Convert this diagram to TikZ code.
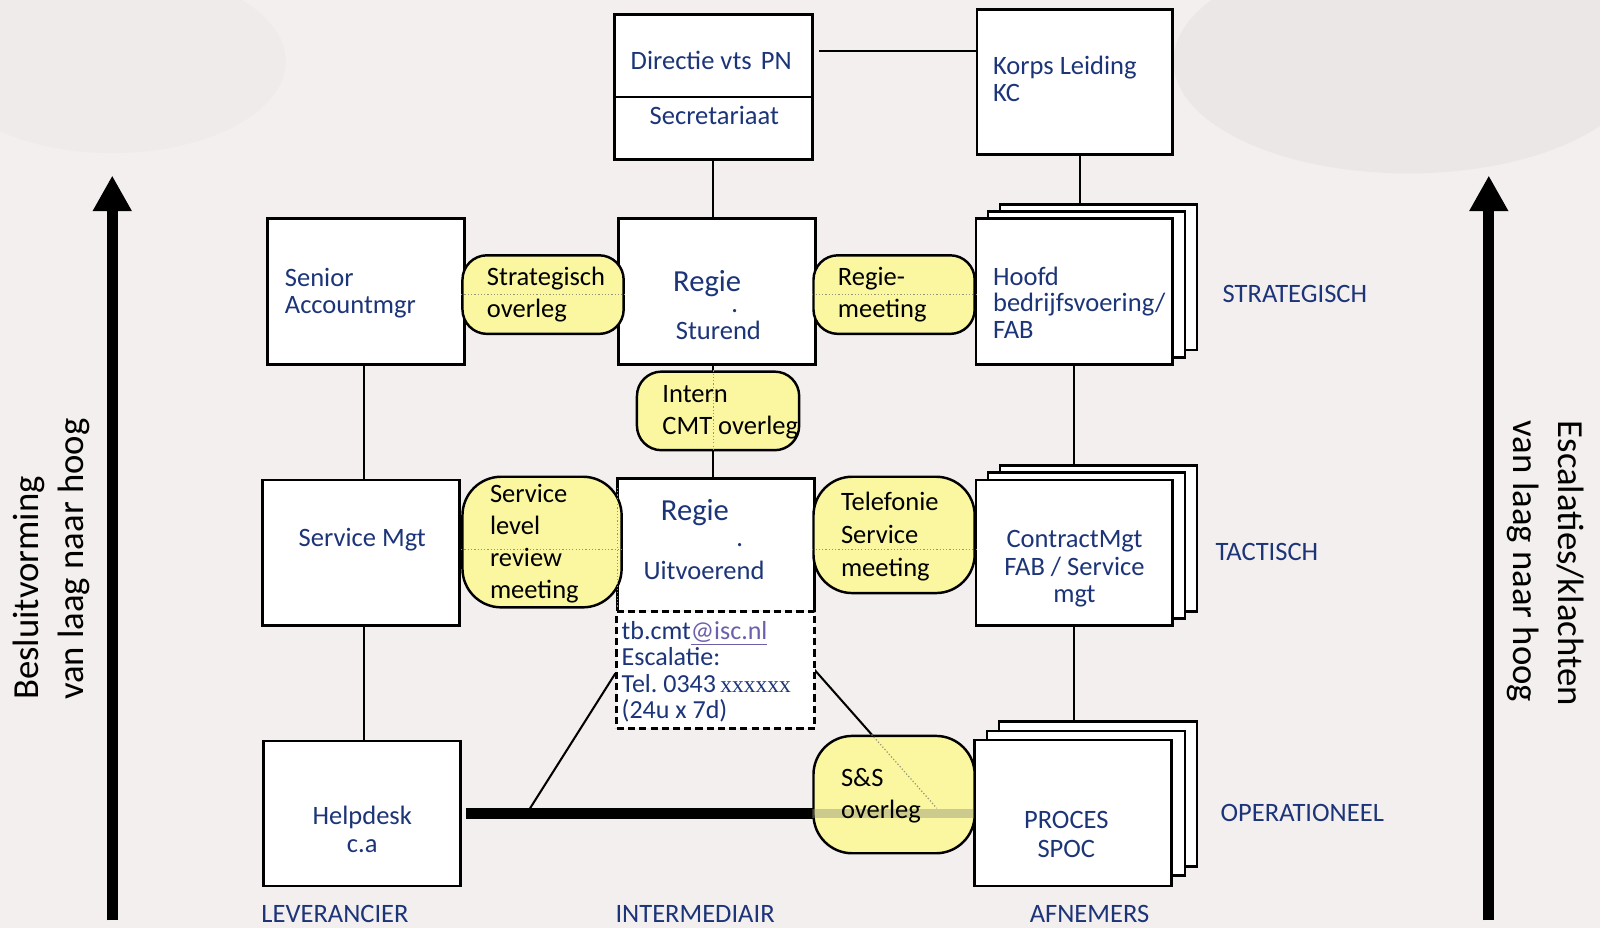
\documentclass[tikz,border=0pt]{standalone}
\usepackage{fontspec}
\setmainfont{Carlito}
\newfontfamily\serifx{Liberation Serif}
\usetikzlibrary{arrows.meta}
\definecolor{txtblue}{RGB}{28,52,120}
\definecolor{pillyellow}{RGB}{250,247,160}
\definecolor{bgc}{RGB}{244,239,239}
\definecolor{bgd}{RGB}{226,220,220}
\definecolor{linkc}{RGB}{110,95,170}
\definecolor{seec}{RGB}{150,150,120}
\frenchspacing
\begin{document}
\begin{tikzpicture}[x=1pt,y=-1pt,
 box/.style={draw=black,line width=2.4pt,fill=white,inner sep=0pt,anchor=north west},
 pill/.style={draw=black,line width=2.4pt,fill=pillyellow,inner sep=0pt,anchor=north west,rounded corners=#1},
 pill/.default=24pt,
 conn/.style={draw=black,line width=2pt},
 see/.style={draw=seec,line width=1.2pt,dotted},
 bt/.style={text=txtblue,inner sep=0pt,font=\fontsize{26}{26.5}\selectfont},
 ptx/.style={text=black,inner sep=0pt,align=left,anchor=base west,font=\fontsize{26}{31.5}\selectfont},
 lab/.style={text=txtblue,inner sep=0pt,anchor=base west,font=\fontsize{26}{27}\selectfont},
 side/.style={text=black,inner sep=0pt,align=left,font=\fontsize{36}{44}\selectfont},
 bigarrow/.style={draw=black,line width=11pt,-{Triangle[width=36pt,length=35pt]}},
]
\useasboundingbox (0,0) rectangle (1568,909);
% background
\fill[bgc] (0,0) rectangle (1568,909);
\fill[bgd,opacity=0.4] (1380,60) ellipse [x radius=230, y radius=110];
\fill[bgd,opacity=0.2] (110,60) ellipse [x radius=170, y radius=90];

% coordinates
\coordinate (dk) at (803,50);
\coordinate (k1) at (1058,150);
\coordinate (r1) at (699,356);
\coordinate (s1) at (357,356);
\coordinate (s2) at (357,612);
\coordinate (dl1) at (517,796);
\coordinate (ssd) at (918,792);
\coordinate (la0) at (110,902);
\coordinate (la1) at (110,172);
\coordinate (ra0) at (1459,902);
\coordinate (ra1) at (1459,172);

% boxes
\node[box,minimum width=194,minimum height=81] (dirtop) at (601,13) {};
\node[box,minimum width=194,minimum height=61] (dirbot) at (601,94) {};
\node[box,minimum width=192,minimum height=142] (korps) at (956,8) {};
\node[box,minimum width=193,minimum height=143] (senior) at (261,213) {};
\node[box,minimum width=193,minimum height=143] (regs) at (605,213) {};
\node[box,minimum width=193,minimum height=143] (hb) at (979,199) {};
\node[box,minimum width=193,minimum height=143] (hm) at (967,206) {};
\node[box,minimum width=193,minimum height=143] (hf) at (955,213) {};
\node[box,minimum width=193,minimum height=143] (svc) at (256,469) {};
\node[inner sep=0pt,anchor=north west,fill=white,minimum width=193,minimum height=129] (regu) at (605,469) {};
\node[box,minimum width=193,minimum height=143] (cb) at (979,455) {};
\node[box,minimum width=193,minimum height=143] (cm) at (967,462) {};
\node[box,minimum width=193,minimum height=143] (cf) at (955,469) {};
\node[box,minimum width=193,minimum height=142] (help) at (257,725) {};
\node[box,minimum width=194,minimum height=142] (pb) at (978,706) {};
\node[box,minimum width=194,minimum height=142] (pm) at (966,715) {};
\node[box,minimum width=193,minimum height=143] (pf) at (954,724) {};

% connectors
\draw[conn] (dk) -- (dk -| korps.west);
\draw[conn] (dirbot.south) -- (dirbot.south |- regs.north);
\draw[conn] (k1) -- (k1 |- hb.north);
\draw[conn] (s1) -- (s1 |- svc.north);
\draw[conn] (r1) -- (r1 |- regu.north);
\draw[conn] (hf.south) -- (hf.south |- cb.north);
\draw[conn] (s2) -- (s2 |- help.north);
\draw[conn] (cf.south) -- (cf.south |- pb.north);
\draw[draw=black,line width=10pt] ([xshift=4pt]help.east) -- (help.east -| pf.west);
\draw[conn] (dl1) -- (603,660);
\draw[conn] (797,655) -- (ssd);
\draw[line width=2.4pt] (regu.south west) -- (regu.north west) -- (regu.north east) -- (regu.south east);

% escalation box
\node[draw=black,line width=3pt,dash pattern=on 7pt off 4pt,fill=white,inner sep=0pt,anchor=north west,minimum width=194,minimum height=114] (esc) at (603,598) {};

% pills
\node[pill,minimum width=158,minimum height=77] (strat) at (452,249) {};
\node[pill,minimum width=158,minimum height=77] (regm) at (796,249) {};
\node[pill,minimum width=159,minimum height=77] (intern) at (623,363) {};
\node[pill=38pt,minimum width=156,minimum height=128] (slr) at (452,466) {};
\node[pill=38pt,minimum width=158,minimum height=114] (tel) at (796,466) {};
\node[pill=38pt,minimum width=158,minimum height=115] (ss) at (796,720) {};

% lines seen through pills
\draw[see] (strat.west) -- (strat.east);
\draw[see] (regm.west) -- (regm.east);
\draw[see] (r1 |- intern.north) -- (r1 |- intern.south);
\draw[see] ([yshift=-7pt]slr.west) -- ([yshift=-7pt]slr.east);
\draw[see] (regu.west |- slr.north) ++(0,12) -- (regu.west |- slr.south);
\draw[see] ([yshift=-14pt]tel.west) -- ([yshift=-14pt]tel.east);
\begin{scope}
\clip (ss.north west) rectangle (ss.south east);
\draw[see] (797,655) -- (ssd);
\draw[seec,line width=9pt,opacity=0.45] (help.east) -- (help.east -| pf.west);
\end{scope}

% box texts (multi-line nodes: base = last line)
\node[bt,anchor=base] (t-dir) at (697,68.6) {Directie vts\hspace{3pt} PN};
\node[bt,anchor=base] (t-sec) at (700,122.5) {Secretariaat};
\node[bt,anchor=base west,align=left] (t-korps) at (973,99.7) {Korps Leiding\\KC};
\node[bt,anchor=base west,align=left] (t-sen) at (279,307) {Senior\\Accountmgr};
\node[bt,anchor=base,font=\fontsize{30}{32}\selectfont] (t-rs1) at (693,286) {Regie};
\node[bt,anchor=base] (t-rs2) at (720,306) {.};
\node[bt,anchor=base] (t-rs3) at (704,333) {Sturend};
\node[bt,anchor=base west,align=left,font=\fontsize{26}{25.7}\selectfont] (t-hoofd) at (973,331.4) {Hoofd\\bedrijfsvoering/\\FAB};
\node[bt,anchor=base] (t-svc) at (355,536) {Service Mgt};
\node[bt,anchor=base,font=\fontsize{30}{32}\selectfont] (t-ru1) at (681,510) {Regie};
\node[bt,anchor=base] (t-ru2) at (725,536) {.};
\node[bt,anchor=base] (t-ru3) at (690,568) {Uitvoerend};
\node[bt,anchor=base,align=center] (t-cm) at (1053,590) {ContractMgt\\FAB / Service\\mgt};
\node[bt,anchor=base,align=center,font=\fontsize{26}{27}\selectfont] (t-help) at (355,835) {Helpdesk\\c.a};
\node[bt,anchor=base,align=center,font=\fontsize{26}{28}\selectfont] (t-proc) at (1045,840) {PROCES\\SPOC};
\node[bt,anchor=base west,align=left,font=\fontsize{25.5}{25.7}\selectfont] (t-esc) at (609,704) {tb.cmt{\color{linkc}\underline{@isc.nl}}\\Escalatie:\\Tel. 0343\,{\serifx\fontsize{23}{25}\selectfont xxxxxx}\\(24u x 7d)};

% pill texts
\node[ptx] (p-strat) at (477,311.5) {Strategisch\\overleg};
\node[ptx] (p-regm) at (821,311.5) {Regie-\\meeting};
\node[ptx] (p-intern) at (649,425.5) {Intern\\CMT overleg};
\node[ptx] (p-slr) at (480,586.5) {Service\\level\\review\\meeting};
\node[ptx,font=\fontsize{26}{32}\selectfont] (p-tel) at (824,564.5) {Telefonie\\Service\\meeting};
\node[ptx] (p-ss) at (824,802.5) {S\&S\\overleg};

% level labels
\node[lab] (l-str) at (1198,296) {STRATEGISCH};
\node[lab] (l-tac) at (1191,549) {TACTISCH};
\node[lab] (l-ope) at (1196,805) {OPERATIONEEL};
\node[lab] (l-lev) at (256,904) {LEVERANCIER};
\node[lab] (l-int) at (603,904) {INTERMEDIAIR};
\node[lab] (l-afn) at (1009,904) {AFNEMERS};

% side arrows and texts
\draw[bigarrow] (la0) -- (la1);
\draw[bigarrow] (ra0) -- (ra1);
\node[side,rotate=90] (s-left) at (50,548) {Besluitvorming\\van laag naar hoog};
\node[side,rotate=-90] (s-right) at (1515,552) {Escalaties/klachten\\van laag naar hoog};
\end{tikzpicture}
\end{document}
